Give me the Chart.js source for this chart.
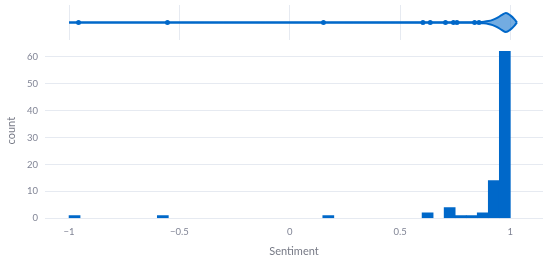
<!DOCTYPE html>
<html>
<head>
<meta charset="utf-8">
<script src="https://cdn.jsdelivr.net/npm/chart.js@4.4.1/dist/chart.umd.min.js"></script>
<style>
  html, body { margin: 0; padding: 0; background: #fff; }
  #wrap { position: relative; width: 550px; height: 262px; }
  #wrap canvas { position: absolute; left: 0; top: 0; }
</style>
</head>
<body>
<div id="wrap">
  <canvas id="histChart" width="550" height="262"></canvas>
  <canvas id="violinChart" width="550" height="45"></canvas>
</div>
<script>
// histogram bins (left edge, size 0.05) and their counts
const binSize = 0.05;
const binStarts = [-1, -0.6, 0.15, 0.6, 0.7, 0.75, 0.8, 0.85, 0.9, 0.95];
const binCounts = [1, 1, 1, 2, 4, 1, 1, 2, 14, 62];

// marginal violin: outlier points and density outline (relative width)
const outlierPoints = [-0.957, -0.554, 0.153, 0.604, 0.637, 0.706, 0.742, 0.758, 0.838, 0.858];
const violinX = [-1.0, 0.84, 0.86, 0.88, 0.90, 0.92, 0.94, 0.96, 0.98, 1.00, 1.02, 1.03];
const violinDensity = [0, 0.02, 0.04, 0.08, 0.15, 0.28, 0.48, 0.77, 1.0, 0.75, 0.3, 0];

const xTicks = [-1, -0.5, 0, 0.5, 1];
const xTickLabels = ["\u22121", "\u22120.5", "0", "0.5", "1"];
const yTicks = [0, 10, 20, 30, 40, 50, 60];

const xMin = -1.109;
const xMax = 1.148;
const blue = "#0068c9";
const gridColor = "#e6eaf1";
const tickColor = "#808495";
const titleColor = "#777a86";
const fontFamily = "Lato, 'Open Sans', sans-serif";

Chart.defaults.font.family = fontFamily;

// bottom: histogram
new Chart(document.getElementById("histChart"), {
  type: "bar",
  data: {
    datasets: [{
      data: binStarts.map((s, i) => ({ x: s + binSize / 2, y: binCounts[i] })),
      backgroundColor: blue,
      borderWidth: 0,
      barPercentage: 1,
      categoryPercentage: 1
    }]
  },
  options: {
    responsive: false,
    animation: false,
    devicePixelRatio: 1,
    layout: { padding: { left: 0, right: 7, top: 43, bottom: 0 } },
    plugins: { legend: { display: false }, tooltip: { enabled: false } },
    scales: {
      x: {
        type: "linear",
        min: xMin,
        max: xMax,
        offset: false,
        grid: { display: false, drawTicks: false },
        border: { display: false },
        afterBuildTicks: scale => { scale.ticks = xTicks.map(v => ({ value: v })); },
        afterFit: scale => { scale.height = 43.7; },
        ticks: {
          color: tickColor,
          font: { size: 9.5 },
          padding: 8,
          maxRotation: 0,
          callback: (v, i) => xTickLabels[i]
        },
        title: {
          display: true,
          text: "Sentiment",
          color: titleColor,
          font: { size: 11 },
          padding: { top: 0, bottom: 3.7 }
        }
      },
      y: {
        min: 0,
        max: 65.1,
        grid: { color: gridColor, drawTicks: false },
        border: { display: false },
        afterBuildTicks: scale => { scale.ticks = yTicks.map(v => ({ value: v })); },
        afterFit: scale => { scale.width = 45; },
        ticks: { color: tickColor, font: { size: 9.5 }, padding: 7 },
        title: {
          display: true,
          text: "count",
          color: titleColor,
          font: { size: 11 },
          padding: { top: 5, bottom: 0 }
        }
      }
    }
  }
});

// top: marginal violin
new Chart(document.getElementById("violinChart"), {
  type: "line",
  data: {
    datasets: [
      {
        data: violinX.map((x, i) => ({ x: x, y: violinDensity[i] })),
        borderColor: blue,
        borderWidth: 2,
        backgroundColor: "rgba(0,104,201,0.55)",
        fill: "+1",
        pointRadius: 0,
        cubicInterpolationMode: "monotone"
      },
      {
        data: violinX.map((x, i) => ({ x: x, y: -violinDensity[i] })),
        borderColor: blue,
        borderWidth: 2,
        fill: false,
        pointRadius: 0,
        cubicInterpolationMode: "monotone"
      },
      {
        type: "scatter",
        data: outlierPoints.map(x => ({ x: x, y: 0 })),
        backgroundColor: blue,
        borderColor: blue,
        pointRadius: 2.5,
        borderWidth: 0
      }
    ]
  },
  options: {
    responsive: false,
    animation: false,
    devicePixelRatio: 1,
    layout: { padding: { left: 45, right: 7, top: 5, bottom: 5 } },
    plugins: { legend: { display: false }, tooltip: { enabled: false } },
    scales: {
      x: {
        type: "linear",
        min: xMin,
        max: xMax,
        grid: { color: gridColor, drawTicks: false },
        border: { display: false },
        ticks: { display: false },
        afterBuildTicks: scale => { scale.ticks = xTicks.map(v => ({ value: v })); },
        afterFit: scale => { scale.height = 0; }
      },
      y: { display: false, min: -1.85, max: 1.85 }
    }
  }
});
</script>
</body>
</html>
